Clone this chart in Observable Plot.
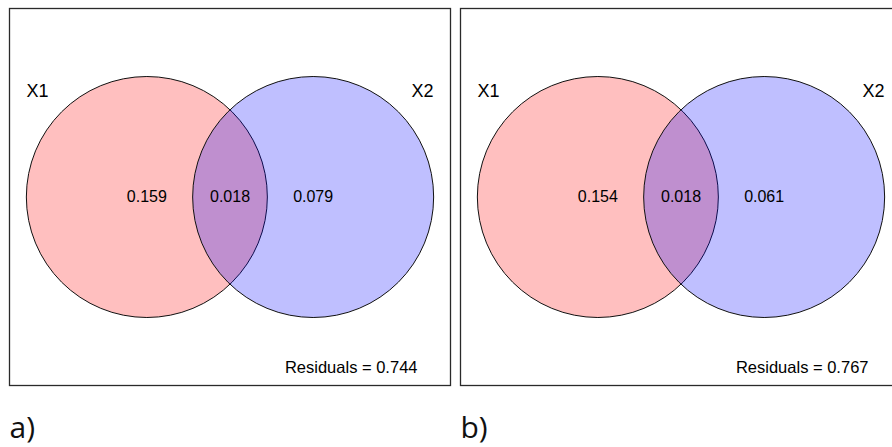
<!DOCTYPE html>
<html>
<head>
<meta charset="utf-8">
<script src="https://cdn.jsdelivr.net/npm/d3@7"></script>
<script src="https://cdn.jsdelivr.net/npm/@observablehq/plot@0.6"></script>
<style>
  html, body { margin: 0; padding: 0; background: #fff; overflow: hidden; }
  #chart { width: 892px; height: 447px; overflow: hidden; }
  #chart svg { max-width: none !important; }
</style>
</head>
<body>
<div id="chart"></div>
<script>
// ---- data ----
const panels = ["a)", "b)"];
const setNames = ["X1", "X2"];
const onlyX1 = [0.159, 0.154];
const overlap = [0.018, 0.018];
const onlyX2 = [0.079, 0.061];
const residuals = [0.744, 0.767];
// fitted circle layout (in radius units)
const centerX1 = [-0.69, -0.69];
const centerX2 = [0.69, 0.69];
const radiusX1 = [1, 1];
const radiusX2 = [1, 1];

// ---- derived tables ----
const circles = panels.flatMap((p, i) => [
  {panel: p, set: setNames[0], cx: centerX1[i], cy: 0, r: radiusX1[i]},
  {panel: p, set: setNames[1], cx: centerX2[i], cy: 0, r: radiusX2[i]}
]);
const fmt = d3.format(".3f");
const regions = panels.flatMap((p, i) => [
  {panel: p, x: centerX1[i], value: onlyX1[i]},
  {panel: p, x: (centerX1[i] + centerX2[i]) / 2, value: overlap[i]},
  {panel: p, x: centerX2[i], value: onlyX2[i]}
]);
const panelRows = panels.map((p, i) => ({panel: p, res: residuals[i]}));

// ---- layout ----
const panelW = 441, panelH = 377, gap = 10, pxPerUnit = 120.5;
const mL = 9, mT = 8, mB = 62;
const width = mL + panelW * 2 + gap;
const xHalf = panelW / 2 / pxPerUnit;
const yHalf = panelH / 2 / pxPerUnit;

const chart = Plot.plot({
  width,
  height: 447,
  marginLeft: mL,
  marginRight: 0,
  marginTop: mT,
  marginBottom: mB,
  style: {fontFamily: "'Liberation Sans', Arial, sans-serif", background: "#fff", color: "#000", maxWidth: "none"},
  fx: {domain: panels, paddingInner: gap / (panelW + gap), paddingOuter: 0, axis: null},
  x: {domain: [-xHalf, xHalf], axis: null},
  y: {domain: [-yHalf, yHalf], axis: null},
  r: {type: "linear", domain: [0, 1], range: [0, pxPerUnit]},
  color: {domain: setNames, range: ["#ff0000", "#0000ff"]},
  marks: [
    Plot.frame({stroke: "#2a2a2a", strokeWidth: 1.3}),
    Plot.dot(circles, {fx: "panel", x: "cx", y: "cy", r: "r", fill: "set", fillOpacity: 0.25, stroke: "#111", strokeWidth: 1}),
    Plot.text(regions, {fx: "panel", x: "x", y: 0, text: d => fmt(d.value), fontSize: 16, fill: "#000", lineAnchor: "middle"}),
    Plot.text(panelRows, {fx: "panel", frameAnchor: "top-left", text: () => setNames[0], dx: 17, dy: 83, textAnchor: "start", lineAnchor: "middle", fontSize: 18, fill: "#000"}),
    Plot.text(panelRows, {fx: "panel", frameAnchor: "top-right", text: () => setNames[1], dx: -17, dy: 83, textAnchor: "end", lineAnchor: "middle", fontSize: 18, fill: "#000"}),
    Plot.text(panelRows, {fx: "panel", frameAnchor: "bottom-right", text: d => "Residuals = " + fmt(d.res), dx: -33, dy: -18, textAnchor: "end", lineAnchor: "middle", fontSize: 16.5, fill: "#000"}),
    Plot.text(panelRows, {fx: "panel", frameAnchor: "bottom-left", text: "panel", dx: 0, dy: 43, textAnchor: "start", lineAnchor: "middle", fontSize: 30, fontFamily: "'Open Sans', sans-serif", fontWeight: 400, fill: "#111"})
  ]
});
document.getElementById("chart").appendChild(chart);
</script>
</body>
</html>
